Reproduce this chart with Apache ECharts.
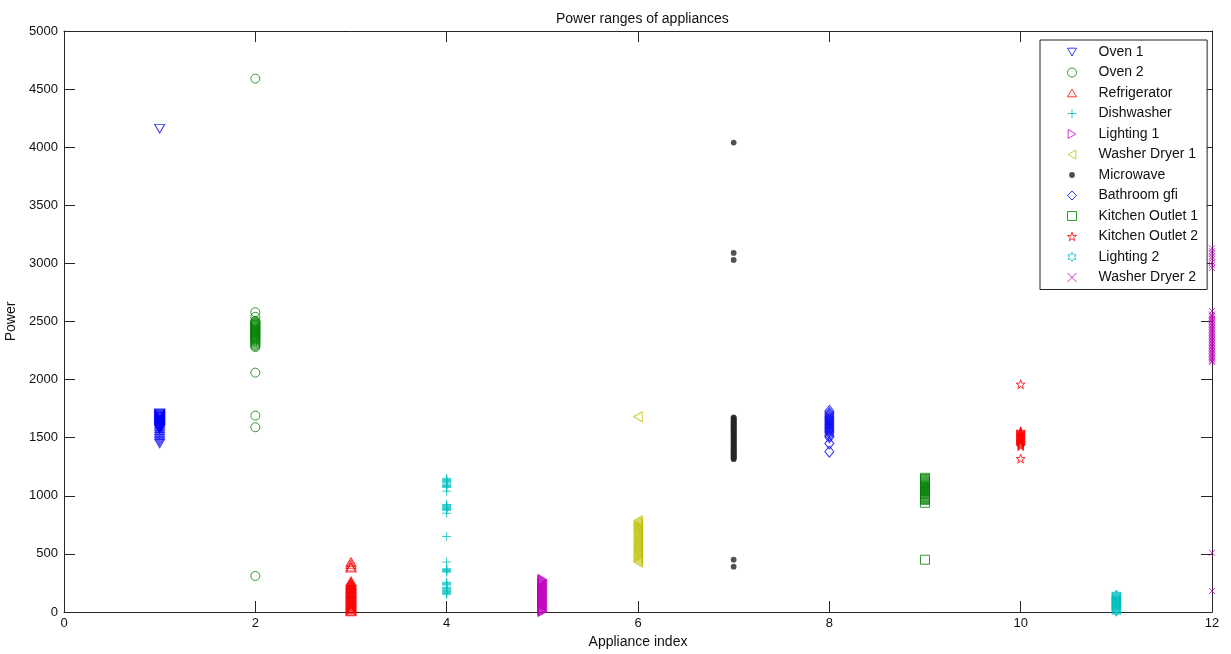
<!DOCTYPE html>
<html>
<head>
<meta charset="utf-8">
<script src="https://cdn.jsdelivr.net/npm/echarts@6/dist/echarts.min.js"></script>
<style>
html,body{margin:0;padding:0;background:#fff;}
#chart{width:1231px;height:654px;}
</style>
</head>
<body>
<div id="chart"></div>
<script>
// ---- data (power values per appliance; x = appliance index) ----
const seriesNames = ['Oven 1','Oven 2','Refrigerator','Dishwasher','Lighting 1','Washer Dryer 1','Microwave','Bathroom gfi','Kitchen Outlet 1','Kitchen Outlet 2','Lighting 2','Washer Dryer 2'];
const applianceIndex = [1,2,3,4,5,6,7,8,9,10,11,12];
const xTicks = [0,2,4,6,8,10,12];
const yTicks = [0,500,1000,1500,2000,2500,3000,3500,4000,4500,5000];

const oven1 = [4160,1710,1705,1700,1694,1690,1686,1680,1676,1670,1665,1660,1655,1650,1646,1640,1635,1630,1626,1620,1615,1610,1604,1600,1596,1590,1585,1580,1574,1570,1550,1530,1510,1490,1470,1450];
const oven2 = [4590,2580,2540,2505,2498,2490,2484,2478,2470,2465,2458,2450,2445,2438,2430,2425,2418,2410,2404,2398,2390,2385,2378,2370,2364,2358,2350,2345,2338,2330,2322,2310,2300,2290,2280,2060,1690,1590,310];
const refrigerator = [430,410,390,380,265,255,245,238,230,222,215,205,198,190,182,175,168,160,152,145,138,130,122,115,108,100,92,85,78,70,62,55,48,40,32,25,18,10,5];
const dishwasher = [1150,1140,1132,1125,1118,1110,1095,1088,1080,1072,1040,925,918,910,903,897,890,882,875,850,650,430,372,365,358,350,343,255,248,240,232,212,205,198,190,183,176,168,160,152];
const lighting1 = [280,272,265,258,250,243,236,228,220,212,205,198,190,182,175,168,160,152,145,138,130,122,115,108,100,92,85,78,70,62,55,48,40,32,25,18,10,5];
const washerDryer1 = [1680,785,772,760,746,733,720,707,694,680,668,655,641,628,615,602,588,575,562,549,536,522,510,496,483,470,457,444,430];
const microwave = [4040,3090,3030,1675,1668,1660,1652,1645,1638,1630,1622,1615,1608,1600,1592,1585,1578,1570,1562,1555,1548,1540,1532,1525,1518,1510,1502,1495,1488,1480,1472,1465,1458,1450,1442,1435,1428,1420,1412,1405,1398,1390,1382,1375,1368,1360,1352,1345,1338,1330,1322,1315,450,390];
const bathroomGfi = [1730,1712,1698,1685,1672,1660,1648,1636,1624,1612,1600,1588,1576,1564,1552,1540,1520,1505,1450,1380];
const kitchenOutlet1 = [1155,1145,1138,1130,1122,1115,1108,1100,1092,1085,1078,1070,1062,1055,1048,1040,1032,1025,1018,1010,1002,995,988,980,972,965,940,450];
const kitchenOutlet2 = [1960,1555,1548,1540,1533,1526,1518,1510,1503,1496,1488,1480,1473,1466,1458,1450,1443,1436,1428,1320];
const lighting2 = [150,143,136,128,120,113,106,98,90,83,76,68,60,53,46,38,30,23,16,8,2];
const washerDryer2 = [3130,3105,3085,3060,3040,3010,2985,2960,2590,2560,2548,2535,2522,2510,2497,2484,2470,2458,2445,2432,2420,2406,2394,2380,2368,2355,2342,2330,2316,2304,2290,2278,2265,2252,2240,2226,2214,2200,2188,2175,2162,2150,510,180];

const allValues = [oven1,oven2,refrigerator,dishwasher,lighting1,washerDryer1,microwave,bathroomGfi,kitchenOutlet1,kitchenOutlet2,lighting2,washerDryer2];

// ---- styles ----
const colors = ['#0000ff','#008000','#ff0000','#00bfbf','#bf00bf','#bfbf00','#262626','#0000ff','#008000','#ff0000','#00bfbf','#bf00bf'];
const TRI_DOWN = 'path://M0,0L10,0L5,8.5Z';
const TRI_UP = 'path://M5,0L10,8.5L0,8.5Z';
const TRI_RIGHT = 'path://M0,0L8.5,5L0,10Z';
const TRI_LEFT = 'path://M8.5,0L0,5L8.5,10Z';
const PLUS = 'path://M5,0L5,10M0,5L10,5';
const XMARK = 'path://M0,0L10,10M0,10L10,0';
const DOT = 'path://M0,0M10,10M1.8,5A3.2,3.2,0,1,0,8.2,5A3.2,3.2,0,1,0,1.8,5Z';
const STAR = 'path://M50,0L61.8,36.3L100,36.3L69.1,58.8L80.9,95.1L50,72.6L19.1,95.1L30.9,58.8L0,36.3L38.2,36.3Z';
const HEXA = 'path://M50,0L64.4,25L93.3,25L78.9,50L93.3,75L64.4,75L50,100L35.6,75L6.7,75L21.1,50L6.7,25L35.6,25Z';
const markers = [
  {symbol:TRI_DOWN, size:[10,8.5], hollow:true},
  {symbol:'circle', size:9, hollow:true},
  {symbol:TRI_UP, size:[10,8.5], hollow:true},
  {symbol:PLUS, size:9, hollow:true},
  {symbol:TRI_RIGHT, size:[8.5,10], hollow:true},
  {symbol:TRI_LEFT, size:[8.5,10], hollow:true},
  {symbol:DOT, size:9, hollow:false},
  {symbol:'diamond', size:[9,11], hollow:true},
  {symbol:'rect', size:9, hollow:true},
  {symbol:STAR, size:9, hollow:true},
  {symbol:HEXA, size:9, hollow:true},
  {symbol:XMARK, size:6, hollow:true}
];

const FONT = 'Liberation Sans, Arial, sans-serif';
const axisCol = '#262626';

const series = seriesNames.map((name, i) => {
  const m = markers[i];
  return {
    name: name,
    type: 'scatter',
    xAxisIndex: 0,
    yAxisIndex: 0,
    symbol: m.symbol,
    symbolSize: m.size,
    itemStyle: m.hollow
      ? {color: 'rgba(0,0,0,0)', borderColor: colors[i], borderWidth: 1}
      : {color: colors[i], borderWidth: 0},
    emphasis: {disabled: true},
    animation: false,
    data: allValues[i].map(v => [applianceIndex[i], v])
  };
});

const chart = echarts.init(document.getElementById('chart'), null, {renderer: 'canvas'});
const commonX = {
  type: 'value', min: xTicks[0], max: xTicks[xTicks.length-1], interval: xTicks[1]-xTicks[0],
  splitLine: {show: false},
  axisLine: {show: true, onZero: false, lineStyle: {color: axisCol, width: 1}},
  axisTick: {show: true, inside: true, length: 11, lineStyle: {color: axisCol}}
};
const commonY = {
  type: 'value', min: yTicks[0], max: yTicks[yTicks.length-1], interval: yTicks[1]-yTicks[0],
  splitLine: {show: false},
  axisLine: {show: true, onZero: false, lineStyle: {color: axisCol, width: 1}},
  axisTick: {show: true, inside: true, length: 11, lineStyle: {color: axisCol}}
};

chart.setOption({
  backgroundColor: '#ffffff',
  animation: false,
  title: {
    text: 'Power ranges of appliances', left: 551, top: 7,
    textStyle: {fontFamily: FONT, fontSize: 14, fontWeight: 'normal', color: '#111'}
  },
  grid: {left: 64, right: 19, top: 31, bottom: 42, containLabel: false, outerBoundsMode: 'none'},
  xAxis: [
    Object.assign({}, commonX, {
      position: 'bottom', name: 'Appliance index', nameLocation: 'middle', nameGap: 22,
      nameTextStyle: {fontFamily: FONT, fontSize: 14, color: '#111'},
      axisLabel: {show: true, fontFamily: FONT, fontSize: 13, color: '#111', margin: 5}
    }),
    Object.assign({}, commonX, {position: 'top', axisLabel: {show: false}})
  ],
  yAxis: [
    Object.assign({}, commonY, {
      position: 'left', name: 'Power', nameLocation: 'middle', nameGap: 40,
      nameTextStyle: {fontFamily: FONT, fontSize: 14, color: '#111'},
      axisLabel: {show: true, fontFamily: FONT, fontSize: 13, color: '#111', margin: 6,
        formatter: v => String(v)}
    }),
    Object.assign({}, commonY, {position: 'right', axisLabel: {show: false}})
  ],
  legend: {
    orient: 'vertical', left: 1040, top: 40,
    data: seriesNames,
    itemWidth: 9, itemHeight: 9, itemGap: 6.5,
    padding: [5, 9, 5, 27],
    backgroundColor: '#ffffff',
    borderColor: '#222', borderWidth: 1, borderRadius: 0,
    selectedMode: false,
    itemStyle: {borderWidth: 1},
    textStyle: {fontFamily: FONT, fontSize: 14, color: '#111', padding: [0, 0, 0, 17]}
  },
  series: series
});
</script>
</body>
</html>
